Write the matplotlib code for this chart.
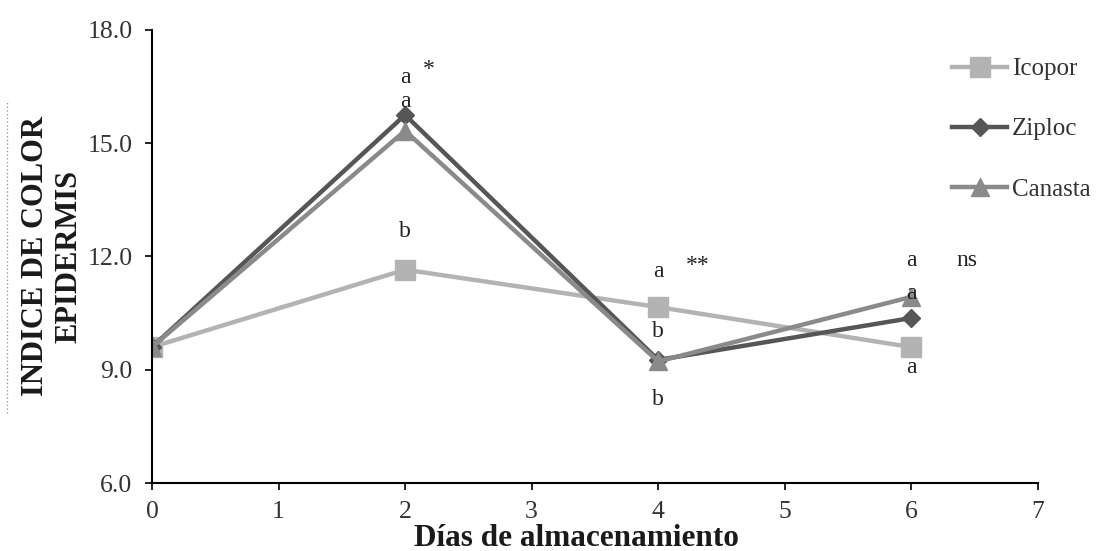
import matplotlib
matplotlib.use("Agg")
import matplotlib.pyplot as plt
from matplotlib.lines import Line2D

plt.rcParams['font.family'] = ['Liberation Serif', 'DejaVu Serif']

dias = [0, 2, 4, 6]
icopor = [9.6, 11.65, 10.66, 9.6]
ziploc = [9.6, 15.75, 9.26, 10.37]
canasta = [9.6, 15.33, 9.22, 10.93]

# letras de significancia: (x, y, texto)
letras = [
    (2, 16.75, 'a'), (2.19, 16.95, '*'), (2, 16.1, 'a'), (2, 12.65, 'b'),
    (4, 11.6, 'a'), (4.31, 11.75, '**'), (4, 10.0, 'b'), (4, 8.2, 'b'),
    (6, 11.9, 'a'), (6.44, 11.9, 'ns'), (6, 11.03, 'a'), (6, 9.07, 'a'),
]

fig = plt.figure(figsize=(11.01, 5.51), dpi=100)
ax = fig.add_axes([0.138, 0.1234, 0.8047, 0.8222])

ax.plot(dias, icopor, color='#b3b3b3', lw=3.2, marker='s', ms=14.5, label='Icopor')
ax.plot(dias, ziploc, color='#565656', lw=3.2, marker='D', ms=9.5, label='Ziploc')
ax.plot(dias, canasta, color='#8a8a8a', lw=3.2, marker='^', ms=13, label='Canasta')

for x, y, t in letras:
    ax.text(x, y, t, ha='center', va='center', fontsize=17, color='#222222')

ax.set_xlim(0, 7)
ax.set_ylim(6, 18)
ax.set_xticks(range(8))
ax.set_yticks([6, 9, 12, 15, 18])
ax.set_yticklabels(['6.0', '9.0', '12.0', '15.0', '18.0'])
ax.tick_params(labelsize=18.5, direction='out', length=5, width=1.2, color='black',
               labelcolor='#333333')
ax.tick_params(axis='x', pad=8)
ax.tick_params(axis='y', pad=9)
for s in ['top', 'right']:
    ax.spines[s].set_visible(False)
for s in ['left', 'bottom']:
    ax.spines[s].set_linewidth(1.5)

fig.text(52 / 1101, 1 - 256.5 / 551, 'INDICE DE COLOR\nEPIDERMIS', rotation=90,
         ha='center', va='center', fontsize=22, fontweight='bold', linespacing=1.22,
         color='#1a1a1a')
fig.text(576 / 1101, 1 - 538 / 551, 'Días de almacenamiento', ha='center', va='center',
         fontsize=22.5, fontweight='bold', color='#1a1a1a')

leg = ax.legend(loc='upper left', bbox_to_anchor=(952 / 1101, 1 - 58 / 551),
                bbox_transform=fig.transFigure, frameon=False, fontsize=18,
                handlelength=2.2, handletextpad=0.2, labelspacing=1.5,
                borderpad=0, borderaxespad=0)
for t in leg.get_texts():
    t.set_color('#333333')

fig.lines.append(Line2D([0.0064, 0.0064], [0.25, 0.818], transform=fig.transFigure,
                        color='#999999', lw=1, ls=':'))

fig.savefig('out.png', dpi=100)
